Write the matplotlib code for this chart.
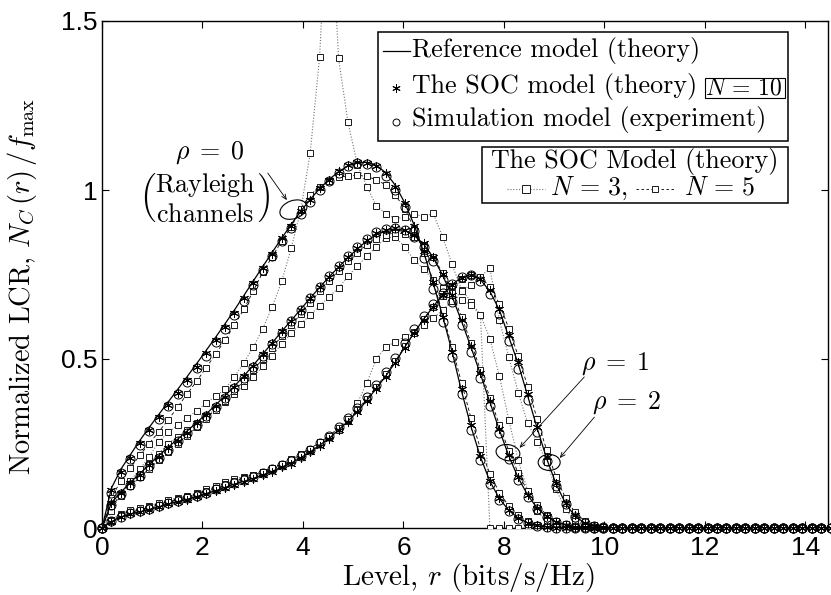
import numpy as np
import matplotlib
matplotlib.use("Agg")
import matplotlib.pyplot as plt
from matplotlib.patches import Ellipse, Rectangle
from matplotlib.lines import Line2D
import matplotlib.transforms as mtransforms

plt.rcParams['font.family'] = 'serif'
plt.rcParams['font.serif'] = ['cmr10']
plt.rcParams['mathtext.fontset'] = 'cm'
plt.rcParams['axes.formatter.use_mathtext'] = True

# ---- level grid (bits/s/Hz) ----
level = np.linspace(0, 14.5, 78)

# ---- rho = 0 (Rayleigh) ----
ref_rho0 = [0, 0.118, 0.174, 0.217, 0.259, 0.298, 0.336, 0.373, 0.41, 0.448,
            0.486, 0.525, 0.564, 0.604, 0.645, 0.688, 0.731, 0.774, 0.816, 0.858,
            0.898, 0.937, 0.972, 1.004, 1.031, 1.054, 1.071, 1.081, 1.082, 1.073,
            1.051, 1.014, 0.962, 0.896, 0.816, 0.725, 0.627, 0.522, 0.405, 0.3,
            0.21, 0.138, 0.087, 0.052, 0.029, 0.015, 0.007, 0.003, 0.001, 0,
            0, 0, 0, 0, 0, 0, 0, 0, 0, 0,
            0, 0, 0, 0, 0, 0, 0, 0, 0, 0,
            0, 0, 0, 0, 0, 0, 0, 0]
soc10_rho0 = [0, 0.112, 0.167, 0.208, 0.252, 0.29, 0.327, 0.364, 0.399, 0.438,
              0.477, 0.517, 0.556, 0.596, 0.636, 0.68, 0.724, 0.769, 0.812, 0.857,
              0.893, 0.938, 0.97, 1.005, 1.03, 1.056, 1.074, 1.084, 1.081, 1.071,
              1.049, 1.01, 0.962, 0.893, 0.82, 0.728, 0.625, 0.52, 0.41, 0.305,
              0.212, 0.14, 0.09, 0.054, 0.03, 0.016, 0.008, 0.003, 0.001, 0,
              0, 0, 0, 0, 0, 0, 0, 0, 0, 0,
              0, 0, 0, 0, 0, 0, 0, 0, 0, 0,
              0, 0, 0, 0, 0, 0, 0, 0]
sim_rho0 = [0, 0.105, 0.162, 0.205, 0.247, 0.286, 0.323, 0.36, 0.397, 0.433,
            0.472, 0.51, 0.55, 0.59, 0.63, 0.672, 0.718, 0.762, 0.806, 0.85,
            0.888, 0.93, 0.965, 1.0, 1.028, 1.05, 1.07, 1.079, 1.078, 1.067,
            1.04, 1.0, 0.95, 0.88, 0.8, 0.708, 0.61, 0.505, 0.395, 0.29,
            0.2, 0.13, 0.082, 0.05, 0.028, 0.015, 0.007, 0.003, 0.001, 0,
            0, 0, 0, 0, 0, 0, 0, 0, 0, 0,
            0, 0, 0, 0, 0, 0, 0, 0, 0, 0,
            0, 0, 0, 0, 0, 0, 0, 0]
soc5_rho0 = [0, 0.09, 0.14, 0.178, 0.215, 0.25, 0.285, 0.32, 0.358, 0.397,
             0.434, 0.474, 0.514, 0.556, 0.6, 0.648, 0.702, 0.757, 0.803, 0.85,
             0.89, 0.945, 0.985, 1.01, 1.028, 1.037, 1.042, 1.044, 1.04, 1.03,
             1.015, 0.985, 0.945, 0.885, 0.815, 0.73, 0.635, 0.535, 0.43, 0.325,
             0.235, 0.16, 0.105, 0.065, 0.037, 0.02, 0.01, 0.004, 0.002, 0.001,
             0, 0, 0, 0, 0, 0, 0, 0, 0, 0,
             0, 0, 0, 0, 0, 0, 0, 0, 0, 0,
             0, 0, 0, 0, 0, 0, 0, 0]
soc3_rho0 = [0, 0.05, 0.1, 0.14, 0.174, 0.211, 0.255, 0.283, 0.305, 0.325,
             0.347, 0.369, 0.39, 0.41, 0.448, 0.489, 0.536, 0.59, 0.655, 0.73,
             0.828, 0.94, 1.108, 1.394, 1.95, 1.39, 1.2, 1.075, 1.01, 0.953,
             0.93, 0.915, 0.92, 0.93, 0.92, 0.931, 0.862, 0.78, 0.705, 0.67,
             0.63, 0, 0, 0, 0, 0, 0, 0, 0, 0,
             0, 0, 0, 0, 0, 0, 0, 0, 0, 0,
             0, 0, 0, 0, 0, 0, 0, 0, 0, 0,
             0, 0, 0, 0, 0, 0, 0, 0]

# ---- rho = 1 ----
ref_rho1 = [0, 0.075, 0.106, 0.135, 0.161, 0.188, 0.214, 0.239, 0.263, 0.287,
            0.312, 0.337, 0.364, 0.391, 0.42, 0.45, 0.482, 0.515, 0.548, 0.582,
            0.614, 0.647, 0.68, 0.712, 0.743, 0.772, 0.8, 0.826, 0.85, 0.868,
            0.88, 0.885, 0.88, 0.865, 0.84, 0.8, 0.748, 0.685, 0.612, 0.535,
            0.455, 0.372, 0.29, 0.213, 0.148, 0.097, 0.059, 0.034, 0.018, 0.009,
            0.004, 0.002, 0.001, 0, 0, 0, 0, 0, 0, 0,
            0, 0, 0, 0, 0, 0, 0, 0, 0, 0,
            0, 0, 0, 0, 0, 0, 0, 0]
soc10_rho1 = [0, 0.073, 0.103, 0.132, 0.158, 0.186, 0.211, 0.236, 0.258, 0.282,
              0.31, 0.334, 0.362, 0.388, 0.418, 0.45, 0.48, 0.514, 0.546, 0.583,
              0.612, 0.645, 0.68, 0.714, 0.744, 0.773, 0.803, 0.828, 0.852, 0.872,
              0.882, 0.887, 0.882, 0.867, 0.842, 0.802, 0.752, 0.69, 0.615, 0.538,
              0.458, 0.375, 0.292, 0.215, 0.15, 0.099, 0.06, 0.035, 0.019, 0.01,
              0.004, 0.002, 0.001, 0, 0, 0, 0, 0, 0, 0,
              0, 0, 0, 0, 0, 0, 0, 0, 0, 0,
              0, 0, 0, 0, 0, 0, 0, 0]
sim_rho1 = [0, 0.068, 0.1, 0.128, 0.155, 0.182, 0.207, 0.232, 0.256, 0.28,
            0.305, 0.33, 0.357, 0.385, 0.414, 0.445, 0.477, 0.51, 0.544, 0.578,
            0.612, 0.645, 0.679, 0.713, 0.745, 0.776, 0.806, 0.832, 0.856, 0.876,
            0.886, 0.889, 0.882, 0.862, 0.832, 0.79, 0.735, 0.67, 0.6, 0.522,
            0.443, 0.36, 0.28, 0.205, 0.142, 0.093, 0.057, 0.033, 0.018, 0.009,
            0.004, 0.002, 0.001, 0, 0, 0, 0, 0, 0, 0,
            0, 0, 0, 0, 0, 0, 0, 0, 0, 0,
            0, 0, 0, 0, 0, 0, 0, 0]
soc5_rho1 = [0, 0.065, 0.096, 0.124, 0.15, 0.176, 0.2, 0.225, 0.249, 0.273,
             0.298, 0.323, 0.35, 0.377, 0.405, 0.436, 0.468, 0.5, 0.534, 0.568,
             0.6, 0.633, 0.667, 0.7, 0.731, 0.761, 0.79, 0.815, 0.838, 0.856,
             0.868, 0.873, 0.871, 0.86, 0.838, 0.803, 0.755, 0.695, 0.625, 0.548,
             0.468, 0.386, 0.305, 0.228, 0.162, 0.108, 0.067, 0.039, 0.021, 0.011,
             0.005, 0.002, 0.001, 0, 0, 0, 0, 0, 0, 0,
             0, 0, 0, 0, 0, 0, 0, 0, 0, 0,
             0, 0, 0, 0, 0, 0, 0, 0]
soc3_rho1 = [0, 0.07, 0.1, 0.13, 0.16, 0.19, 0.22, 0.25, 0.27, 0.29,
             0.31, 0.33, 0.352, 0.372, 0.395, 0.42, 0.448, 0.478, 0.51, 0.545,
             0.576, 0.604, 0.63, 0.657, 0.684, 0.71, 0.745, 0.775, 0.805, 0.832,
             0.858, 0.862, 0.83, 0.793, 0.765, 0.735, 0.71, 0.69, 0.675, 0.66,
             0.63, 0.56, 0.45, 0.32, 0.2, 0.11, 0.05, 0.02, 0.005, 0,
             0, 0, 0, 0, 0, 0, 0, 0, 0, 0,
             0, 0, 0, 0, 0, 0, 0, 0, 0, 0,
             0, 0, 0, 0, 0, 0, 0, 0]

# ---- rho = 2 ----
ref_rho2 = [0, 0.019, 0.033, 0.041, 0.048, 0.055, 0.063, 0.071, 0.078, 0.085,
            0.093, 0.102, 0.11, 0.12, 0.13, 0.138, 0.147, 0.157, 0.168, 0.18,
            0.192, 0.208, 0.225, 0.245, 0.265, 0.29, 0.316, 0.344, 0.378, 0.413,
            0.45, 0.49, 0.535, 0.578, 0.618, 0.655, 0.69, 0.72, 0.742, 0.75,
            0.735, 0.7, 0.645, 0.565, 0.485, 0.39, 0.295, 0.205, 0.13, 0.072,
            0.035, 0.015, 0.006, 0.002, 0, 0, 0, 0, 0, 0,
            0, 0, 0, 0, 0, 0, 0, 0, 0, 0,
            0, 0, 0, 0, 0, 0, 0, 0]
soc10_rho2 = [0, 0.018, 0.032, 0.04, 0.047, 0.054, 0.062, 0.07, 0.077, 0.084,
              0.092, 0.101, 0.109, 0.119, 0.128, 0.137, 0.146, 0.156, 0.167, 0.179,
              0.19, 0.207, 0.224, 0.243, 0.264, 0.289, 0.314, 0.343, 0.377, 0.412,
              0.448, 0.488, 0.533, 0.577, 0.616, 0.653, 0.688, 0.718, 0.741, 0.749,
              0.737, 0.703, 0.648, 0.57, 0.49, 0.395, 0.3, 0.21, 0.134, 0.075,
              0.037, 0.016, 0.006, 0.002, 0.001, 0, 0, 0, 0, 0,
              0, 0, 0, 0, 0, 0, 0, 0, 0, 0,
              0, 0, 0, 0, 0, 0, 0, 0]
sim_rho2 = [0, 0.02, 0.034, 0.043, 0.05, 0.057, 0.065, 0.073, 0.08, 0.088,
            0.096, 0.105, 0.114, 0.123, 0.133, 0.142, 0.152, 0.163, 0.174, 0.186,
            0.199, 0.214, 0.232, 0.252, 0.273, 0.298, 0.325, 0.354, 0.388, 0.424,
            0.462, 0.502, 0.546, 0.588, 0.627, 0.662, 0.695, 0.722, 0.742, 0.748,
            0.73, 0.692, 0.632, 0.552, 0.47, 0.378, 0.285, 0.198, 0.125, 0.07,
            0.034, 0.015, 0.006, 0.002, 0, 0, 0, 0, 0, 0,
            0, 0, 0, 0, 0, 0, 0, 0, 0, 0,
            0, 0, 0, 0, 0, 0, 0, 0]
soc5_rho2 = [0, 0.022, 0.037, 0.046, 0.054, 0.061, 0.069, 0.077, 0.085, 0.093,
             0.101, 0.11, 0.119, 0.129, 0.139, 0.148, 0.157, 0.167, 0.178, 0.19,
             0.203, 0.218, 0.235, 0.253, 0.272, 0.296, 0.322, 0.35, 0.383, 0.418,
             0.455, 0.494, 0.537, 0.578, 0.617, 0.653, 0.687, 0.716, 0.738, 0.748,
             0.742, 0.714, 0.664, 0.59, 0.508, 0.418, 0.322, 0.23, 0.15, 0.088,
             0.046, 0.021, 0.008, 0.003, 0.001, 0, 0, 0, 0, 0,
             0, 0, 0, 0, 0, 0, 0, 0, 0, 0,
             0, 0, 0, 0, 0, 0, 0, 0]
soc3_rho2 = [0, 0.025, 0.042, 0.052, 0.06, 0.066, 0.074, 0.082, 0.089, 0.094,
             0.103, 0.114, 0.124, 0.137, 0.145, 0.152, 0.157, 0.165, 0.175, 0.187,
             0.2, 0.215, 0.232, 0.25, 0.27, 0.29, 0.318, 0.37, 0.43, 0.5,
             0.536, 0.551, 0.566, 0.58, 0.6, 0.62, 0.645, 0.672, 0.7, 0.72,
             0.744, 0.768, 0.615, 0.505, 0.4, 0.31, 0.255, 0.195, 0.114, 0.055,
             0.02, 0.005, 0, 0, 0, 0, 0, 0, 0, 0,
             0, 0, 0, 0, 0, 0, 0, 0, 0, 0,
             0, 0, 0, 0, 0, 0, 0, 0]

x_ticks = [0, 2, 4, 6, 8, 10, 12, 14]
x_tick_labels = ['0', '2', '4', '6', '8', '10', '12', '14']
y_ticks = [0, 0.5, 1, 1.5]
y_tick_labels = ['0', '0.5', '1', '1.5']

W, H = 831, 595
fig = plt.figure(figsize=(W / 100, H / 100), dpi=100)
ax = fig.add_axes([102 / W, 1 - 528 / H, 726 / W, 507 / H])

FS = 18.7      # legend / annotation text
FS_LAB = 21    # axis labels


def fpx(x, y):
    """pixel position -> figure fraction"""
    return x / W, 1 - y / H


sq_style = dict(marker='s', ms=3.8, mfc='white', mec='0.1', mew=0.7)
ast_marker = (6, 2, 0)

families = [
    (ref_rho0, soc10_rho0, sim_rho0, soc5_rho0, soc3_rho0),
    (ref_rho1, soc10_rho1, sim_rho1, soc5_rho1, soc3_rho1),
    (ref_rho2, soc10_rho2, sim_rho2, soc5_rho2, soc3_rho2),
]

for ref, soc10, sim, soc5, soc3 in families:
    ax.plot(level, soc3, color='0.45', lw=0.8, ls=(0, (1, 1.6)), zorder=2)
    ax.plot(level, soc3, ls='none', zorder=3, **sq_style)
    ax.plot(level, soc5, color='k', lw=0.6, ls=(0, (4, 3)), zorder=2)
    ax.plot(level, soc5, ls='none', zorder=3, **sq_style)
    ax.plot(level, ref, color='k', lw=0.9, zorder=4)
    ax.plot(level, soc10, ls='none', marker=ast_marker, ms=6.5, mec='k',
            mew=0.7, zorder=5, clip_on=False)
    ax.plot(level, sim, ls='none', marker='o', ms=6.5, mfc='none', mec='k',
            mew=0.7, zorder=5, clip_on=False)

ax.set_xlim(0, 14.45)
ax.set_ylim(0, 1.5)
ax.set_xticks(x_ticks)
ax.set_xticklabels(x_tick_labels)
ax.set_yticks(y_ticks)
ax.set_yticklabels(y_tick_labels)
ax.tick_params(direction='in', top=True, right=True, length=5, width=0.8,
               labelsize=19, labelfontfamily='Liberation Sans')
ax.tick_params(axis='x', pad=6)
ax.tick_params(axis='y', pad=3)
for s in ax.spines.values():
    s.set_linewidth(1.0)

fig.text(*fpx(468, 578), 'Level, $r$ (bits/s/Hz)', ha='center', va='center',
         fontsize=FS_LAB)
fig.text(*fpx(22, 287), r'Normalized LCR, $N_C\,(r)\,/f_{\max}$', ha='center',
         va='center', rotation=90, fontsize=20.5)

# ---- annotations ----
ax.text(2.15, 1.11, r'$\rho\;=\;0$', ha='center', va='center', fontsize=FS)
ax.text(2.05, 0.975,
        r'$\genfrac{(}{)}{0}{0}{\mathrm{Rayleigh}}{\mathrm{channels}}$',
        ha='center', va='center', fontsize=FS)
ax.text(10.22, 0.485, r'$\rho\;=\;1$', ha='center', va='center', fontsize=FS)
ax.text(10.44, 0.37, r'$\rho\;=\;2$', ha='center', va='center', fontsize=FS)

arrow = dict(arrowstyle='->,head_length=0.35,head_width=0.15', lw=0.6,
             color='k', shrinkA=0, shrinkB=0)
ax.annotate('', xy=(3.68, 0.97), xytext=(3.30, 1.05), arrowprops=arrow)
ax.annotate('', xy=(8.31, 0.237), xytext=(9.60, 0.447), arrowprops=arrow)
ax.annotate('', xy=(9.11, 0.207), xytext=(9.80, 0.328), arrowprops=arrow)


def ring(xc, yc, wpx, hpx, ang):
    tr = fig.dpi_scale_trans + mtransforms.ScaledTranslation(xc, yc, ax.transData)
    e = Ellipse((0, 0), wpx / 100, hpx / 100, angle=ang, transform=tr,
                fill=False, lw=0.8, ec='k', zorder=6)
    ax.add_artist(e)


ring(3.81, 0.942, 28, 18, 20)
ring(8.08, 0.223, 24, 16, -10)
ring(8.90, 0.194, 22, 16, 0)

# ---- legend: models ----
L, T, R, B = 378, 32, 788, 141
fig.add_artist(Rectangle(fpx(L, B), (R - L) / W, (B - T) / H,
                         transform=fig.transFigure, fc='white', ec='k', lw=1.1,
                         zorder=10))
fig.add_artist(Line2D([383 / W, 410 / W], [1 - 51 / H] * 2,
                      transform=fig.transFigure, color='k', lw=0.9, zorder=11))
fig.add_artist(Line2D([396 / W], [1 - 88 / H], transform=fig.transFigure,
                      ls='none', marker=ast_marker, ms=6, mec='k', mew=0.7,
                      zorder=11))
fig.add_artist(Line2D([396 / W], [1 - 122 / H], transform=fig.transFigure,
                      ls='none', marker='o', ms=5, mfc='none', mec='k', mew=0.7,
                      zorder=11))
fig.text(*fpx(412, 50), 'Reference model (theory)', va='center', fontsize=FS,
         zorder=12)
fig.text(*fpx(412, 86), 'The SOC model (theory)', va='center', fontsize=FS,
         zorder=12)
fig.text(*fpx(412, 120), 'Simulation model (experiment)', va='center',
         fontsize=FS, zorder=12)
fig.add_artist(Rectangle(fpx(705, 98), 80 / W, 20 / H,
                         transform=fig.transFigure, fc='white', ec='k', lw=0.8,
                         zorder=11))
fig.text(*fpx(744, 88), r'$N\,=\,10$', ha='center', va='center',
         fontsize=17, zorder=12)

# ---- legend: SOC model with few sinusoids ----
L2, T2, R2, B2 = 482, 147, 788, 203
fig.add_artist(Rectangle(fpx(L2, B2), (R2 - L2) / W, (B2 - T2) / H,
                         transform=fig.transFigure, fc='white', ec='k', lw=1.1,
                         zorder=10))
fig.text(*fpx(635, 162), 'The SOC Model (theory)', ha='center',
         va='center', fontsize=FS, zorder=12)
fig.add_artist(Line2D([507 / W, 545 / W], [1 - 189 / H] * 2,
                      transform=fig.transFigure, color='0.45', lw=0.8,
                      ls=(0, (1, 1.6)), zorder=11))
fig.add_artist(Line2D([526 / W], [1 - 189 / H], transform=fig.transFigure,
                      ls='none', zorder=12, **dict(sq_style, ms=6)))
fig.text(*fpx(550, 188), r'$N\,=\,3,$', va='center', fontsize=FS, zorder=12)
fig.add_artist(Line2D([636 / W, 674 / W], [1 - 189 / H] * 2,
                      transform=fig.transFigure, color='k', lw=0.6,
                      ls=(0, (3, 3)), zorder=11))
fig.add_artist(Line2D([655 / W], [1 - 189 / H], transform=fig.transFigure,
                      ls='none', zorder=12, **dict(sq_style, ms=5)))
fig.text(*fpx(684, 188), r'$N\,=\,5$', va='center', fontsize=FS, zorder=12)

fig.savefig('out.png', dpi=100)
